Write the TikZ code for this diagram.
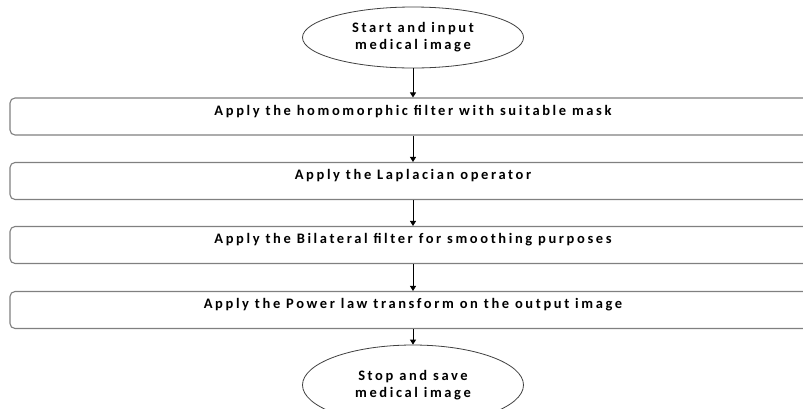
\documentclass[tikz,border=0pt]{standalone}
\usepackage{fontspec}
\setmainfont{Carlito}
\newfontfamily\boxfont[LetterSpace=18]{Carlito}
\usetikzlibrary{shapes.geometric,arrows.meta}
\tikzset{
  procbox/.style={draw=black!50, line width=1.1pt, rounded corners=5pt, minimum width=806pt, minimum height=37pt, inner sep=0pt, font=\boxfont\bfseries\fontsize{14.5}{16}\selectfont},
  term/.style={draw=black!75, line width=0.8pt, ellipse, minimum width=221pt, inner sep=0pt, align=center, font=\boxfont\bfseries\fontsize{14.5}{17}\selectfont},
  arr/.style={draw=black, line width=0.9pt, -{Triangle[length=5pt,width=6pt]}}
}
\newcommand{\up}[1]{\raisebox{1.5pt}[0pt][0pt]{#1}}
\begin{document}
\begin{tikzpicture}[x=1pt,y=-1pt]
\clip (0,0) rectangle (803,408);
\useasboundingbox (0,0) rectangle (803,408);
\fill[white] (0,0) rectangle (803,408);
\node[term, minimum height=61pt] (e1) at (413,37.5) {Start and input\\medical image};
\node[procbox] (b1) at (413,116.5) {\up{Apply the homomorphic filter with suitable mask}};
\node[procbox] (b2) at (413,181) {\up{Apply the Laplacian operator}};
\node[procbox] (b3) at (413,245) {\up{Apply the Bilateral filter for smoothing purposes}};
\node[procbox] (b4) at (413,310) {\up{Apply the Power law transform on the output image}};
\node[term, minimum height=80pt] (e2) at (413,385) {Stop and save\\medical image};
\draw[arr] (e1.south) -- (b1.north);
\draw[arr] (b1.south) -- (b2.north);
\draw[arr] (b2.south) -- (b3.north);
\draw[arr] (b3.south) -- (b4.north);
\draw[arr] (b4.south) -- (e2.north);
\end{tikzpicture}
\end{document}
